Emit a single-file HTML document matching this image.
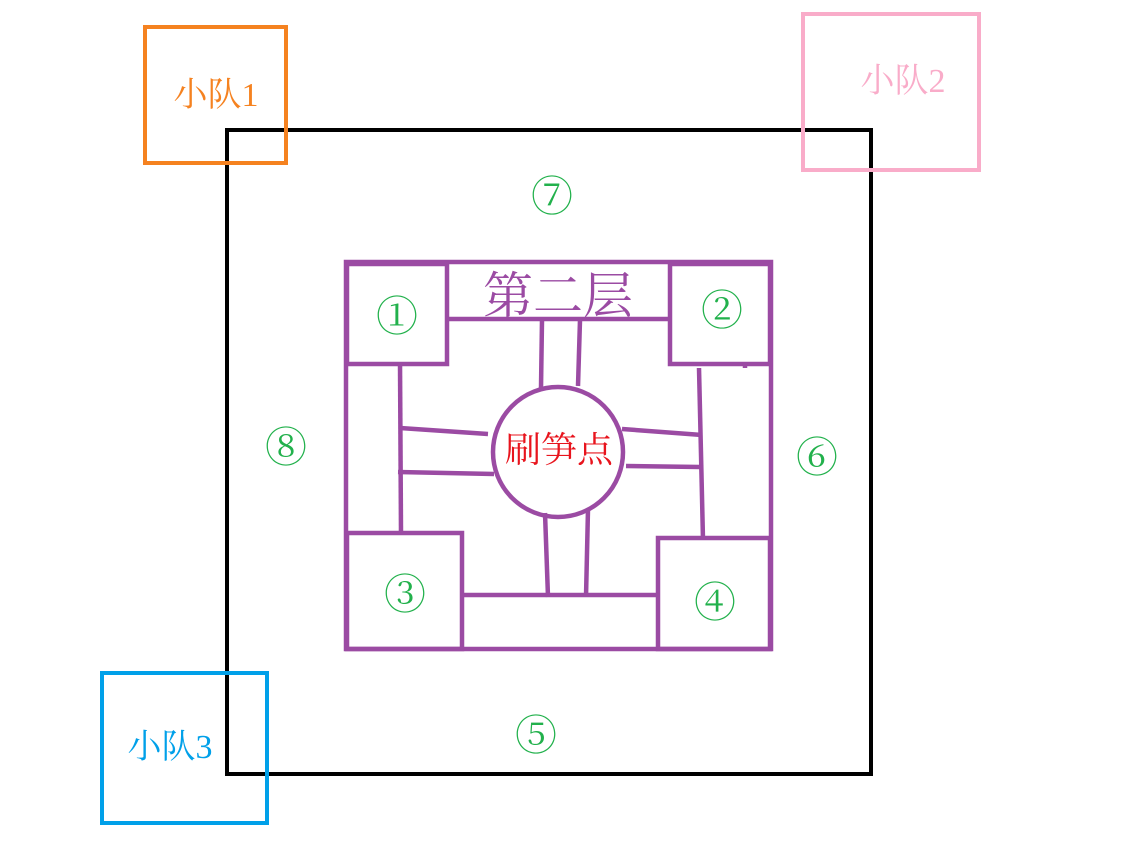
<!DOCTYPE html>
<html><head><meta charset="utf-8"><style>
body{margin:0;background:#fff;width:1131px;height:860px;overflow:hidden}
svg text{font-family:"Liberation Serif","Noto Serif CJK SC","Noto Sans CJK SC",serif}
</style></head><body>
<svg width="1131" height="860" viewBox="0 0 1131 860">
<rect width="1131" height="860" fill="#fff"/>
<rect x="227" y="130" width="644" height="644" fill="none" stroke="#000" stroke-width="4"/>
<rect x="145" y="27" width="141" height="136" fill="none" stroke="#f58220" stroke-width="4"/>
<rect x="803" y="14" width="176" height="156" fill="none" stroke="#f9acc9" stroke-width="4"/>
<rect x="102" y="673" width="165" height="150" fill="none" stroke="#00a0e9" stroke-width="4"/>
<text x="216" y="106" font-size="34" fill="#f58220" text-anchor="middle">小队1</text>
<text x="903" y="92" font-size="34" fill="#f9acc9" text-anchor="middle">小队2</text>
<text x="170" y="758" font-size="34" fill="#00a0e9" text-anchor="middle">小队3</text>
<g fill="#22b14c" font-size="42" text-anchor="middle">
<text x="552" y="211">⑦</text><text x="286" y="462">⑧</text><text x="817" y="472">⑥</text><text x="536" y="750">⑤</text>
<text x="397" y="331">①</text><text x="722" y="325">②</text><text x="405" y="609">③</text><text x="715" y="617">④</text>
</g>
<g fill="none" stroke="#9b4ba3" stroke-width="4.5">
<rect x="346" y="262" width="425" height="387"/>
<rect x="347" y="264" width="100" height="100"/>
<rect x="670" y="264" width="100" height="100"/>
<rect x="347" y="533" width="115" height="116"/>
<rect x="658" y="538" width="112" height="111"/>
<line x1="447" y1="319" x2="670" y2="319"/>
<line x1="462" y1="595" x2="658" y2="595"/>
<circle cx="558" cy="452" r="65"/>
<g stroke-width="4.5">
<line x1="400" y1="362" x2="401" y2="533"/>
<line x1="400" y1="428" x2="488" y2="434"/>
<line x1="398" y1="472" x2="494" y2="474"/>
<line x1="699" y1="368" x2="703" y2="540"/>
<line x1="622" y1="429" x2="702" y2="435"/>
<line x1="626" y1="466" x2="700" y2="467"/>
<line x1="542" y1="320" x2="541" y2="388"/>
<line x1="580" y1="320" x2="578" y2="386"/>
<line x1="545" y1="513" x2="548" y2="597"/>
<line x1="588" y1="509" x2="586" y2="597"/>
<line x1="745" y1="362" x2="745" y2="368"/>
</g>
</g>
<text x="558" y="313" font-size="50" fill="#9b4ba3" text-anchor="middle">第二层</text>
<text x="559" y="462" font-size="36" fill="#e8141d" text-anchor="middle">刷笋点</text>
</svg>
</body></html>
